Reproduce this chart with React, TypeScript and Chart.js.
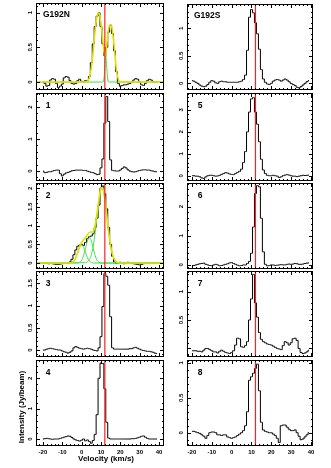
import React, { useEffect, useRef } from "react";
import { Chart, registerables } from "chart.js";

Chart.register(...registerables);

// ---------- DATA ----------
const velocity = [
  -20, -19, -18, -17, -16, -15, -14, -13, -12, -11, -10, -9, -8, -7, -6, -5, -4, -3, -2, -1,
  0, 1, 2, 3, 4, 5, 6, 7, 8, 9, 10, 11, 12, 13, 14, 15, 16, 17, 18, 19,
  20, 21, 22, 23, 24, 25, 26, 27, 28, 29, 30, 31, 32, 33, 34, 35, 36, 37, 38, 39,
];
const refVelocity = 12;
const xTickValues = [-20, -10, 0, 10, 20, 30, 40];

const g192nValues = [
  0.0, -0.02, -0.06, -0.05, 0.03, 0.05, 0.04, -0.02, -0.08, -0.06, -0.03, 0.06, 0.08, 0.07, 0.02, -0.02, -0.03, -0.02, 0.02, 0.04,
  0.01, 0.0, 0.02, 0.02, 0.08, 0.28, 0.55, 0.8, 0.95, 1.0, 0.8, 0.55, 0.38, 0.5, 0.72, 0.82, 0.7, 0.45, 0.15, -0.02,
  -0.06, -0.05, -0.04, -0.04, -0.03, -0.02, 0.0, 0.03, 0.05, 0.04, 0.0, -0.04, -0.05, -0.02, 0.02, 0.04, 0.03, 0.0, 0.0, 0.0,
];
const g192nFitVel = [-24, 2, 3, 4, 5, 6, 7, 8, 9, 10, 11, 11.6, 12.2, 12.8, 13.5, 14.2, 15, 15.8, 16.5, 17.3, 18, 19, 20, 43];
const g192nFitTotal = [0, 0, 0.01, 0.06, 0.2, 0.45, 0.75, 0.95, 1.0, 0.85, 0.58, 0.43, 0.38, 0.47, 0.68, 0.8, 0.83, 0.76, 0.6, 0.38, 0.17, 0.04, 0, 0];
const g192nCompVel = [-24, 11.0, 11.6, 12.1, 12.5, 12.9, 13.4, 14.0, 43];
const g192nComp = [0, 0, 0.06, 0.25, 0.39, 0.25, 0.06, 0, 0];

const pos1Values = [
  0.0, -0.05, -0.04, -0.02, -0.02, 0.0, 0.02, 0.03, 0.03, -0.08, -0.15, -0.1, -0.06, -0.04, -0.02, 0.01, 0.02, 0.03, 0.03, 0.03,
  0.03, 0.02, 0.02, 0.0, -0.02, -0.04, -0.05, -0.08, -0.11, -0.1, 0.1, 0.38, 1.5, 2.33, 1.55, 0.35, 0.02, 0.01, 0.0, 0.0,
  0.03, 0.08, 0.13, 0.1, 0.04, 0.0, -0.02, -0.03, -0.02, 0.0, 0.02, 0.03, 0.04, 0.04, 0.03, 0.03, 0.01, 0.0, -0.02, -0.02,
];

const pos2Values = [
  0.0, 0.0, -0.01, -0.02, -0.01, -0.02, -0.03, -0.04, -0.04, -0.03, -0.02, -0.01, 0.0, 0.0, 0.03, 0.1, 0.22, 0.35, 0.45, 0.48,
  0.5, 0.47, 0.55, 0.65, 0.7, 0.72, 0.78, 0.95, 1.2, 1.55, 2.0, 2.06, 1.85, 1.45, 0.95, 0.5, 0.18, 0.03, -0.01, 0.0,
  0.02, 0.0, -0.02, 0.0, 0.02, 0.01, -0.01, -0.02, -0.03, -0.04, -0.05, -0.04, -0.02, 0.0, 0.01, 0.0, 0.0, 0.01, 0.0, 0.0,
];
const pos2CompAVel = [-24, -6, -5, -4, -3, -2, -1, 0, 1, 2, 3, 4, 5, 6, 43];
const pos2CompA = [0, 0, 0.02, 0.05, 0.14, 0.28, 0.42, 0.48, 0.42, 0.28, 0.14, 0.05, 0.02, 0, 0];
const pos2CompBVel = [-24, -2, -1, 0, 1, 2, 3, 4, 5, 6, 7, 8, 9, 10, 43];
const pos2CompB = [0, 0, 0.02, 0.07, 0.2, 0.39, 0.59, 0.68, 0.59, 0.39, 0.2, 0.07, 0.02, 0, 0];
const pos2CompCVel = [-24, 2, 3, 4, 5, 6, 7, 8, 9, 10, 10.5, 11, 12, 13, 14, 15, 16, 17, 18, 19, 43];
const pos2CompC = [0, 0.01, 0.03, 0.09, 0.22, 0.45, 0.82, 1.27, 1.71, 1.98, 2.02, 1.98, 1.71, 1.27, 0.82, 0.45, 0.22, 0.09, 0.03, 0.01, 0];
const pos2FitVel = [-24, -6, -5, -4, -3, -2, -1, 0, 1, 2, 3, 4, 5, 6, 7, 8, 9, 10, 10.5, 11, 12, 13, 14, 15, 16, 17, 18, 19, 20, 43];
const pos2FitTotal = [0, 0, 0.02, 0.05, 0.14, 0.29, 0.44, 0.55, 0.62, 0.68, 0.76, 0.82, 0.83, 0.84, 1.02, 1.34, 1.73, 1.99, 2.02, 1.98, 1.71, 1.27, 0.82, 0.45, 0.22, 0.09, 0.03, 0.01, 0, 0];

const pos3Values = [
  0.0, 0.0, 0.02, 0.03, 0.04, 0.03, 0.02, 0.01, 0.0, 0.0, -0.02, -0.04, -0.05, -0.07, -0.05, -0.02, 0.05, 0.08, 0.06, 0.04,
  0.03, 0.02, 0.03, 0.04, 0.03, 0.02, 0.0, -0.01, -0.02, 0.05, 0.3, 0.98, 1.72, 1.66, 1.46, 0.75, 0.05, 0.02, 0.02, 0.02,
  0.02, 0.02, 0.02, 0.02, 0.02, 0.03, 0.03, 0.05, 0.06, 0.04, 0.02, 0.0, -0.01, -0.02, -0.03, -0.03, -0.04, -0.05, -0.07, -0.08,
];

const pos4Values = [
  0.0, 0.01, 0.02, 0.01, 0.0, -0.01, 0.0, 0.0, 0.0, 0.02, 0.04, 0.06, 0.08, 0.1, 0.09, 0.05, 0.0, -0.03, -0.05, -0.07,
  -0.04, 0.0, -0.06, -0.03, -0.08, -0.14, -0.05, 0.15, 0.8, 2.0, 2.5, 2.48, 1.65, 0.55, 0.03, 0.0, 0.0, 0.0, 0.0, 0.0,
  0.0, 0.0, 0.0, 0.0, 0.0, 0.0, 0.01, 0.01, 0.02, 0.04, 0.06, 0.09, 0.1, 0.06, 0.02, 0.0, 0.0, 0.0, 0.0, 0.0,
];

const g192sValues = [
  0.05, 0.04, 0.02, 0.0, -0.03, -0.05, -0.06, -0.05, -0.02, 0.02, 0.05, 0.04, 0.01, 0.0, 0.03, 0.04, 0.03, 0.03, 0.02, 0.02,
  0.02, 0.02, 0.02, 0.02, 0.03, 0.04, 0.07, 0.15, 0.6, 1.2, 1.34, 1.28, 1.1, 0.9, 0.62, 0.25, 0.08, 0.02, -0.01, -0.02,
  0.0, 0.04, 0.06, 0.07, 0.06, 0.04, 0.06, 0.08, 0.06, 0.03, 0.0, -0.02, -0.04, -0.07, -0.08, -0.06, -0.03, 0.0, 0.03, 0.05,
];

const pos5Values = [
  0.0, 0.0, -0.02, -0.02, -0.05, -0.1, -0.12, -0.05, 0.0, 0.02, 0.02, 0.0, -0.02, -0.01, 0.02, 0.06, 0.1, 0.14, 0.12, 0.08,
  0.06, 0.05, 0.1, 0.15, 0.2, 0.3, 0.6, 1.1, 2.0, 2.9, 3.5, 3.56, 2.9, 2.35, 1.55, 0.75, 0.26, 0.1, 0.02, 0.0,
  0.0, 0.02, 0.0, -0.02, -0.08, -0.05, 0.0, 0.03, 0.05, 0.03, 0.0, -0.02, -0.02, -0.04, -0.02, 0.0, 0.02, 0.01, 0.02, 0.03,
];

const pos6Values = [
  -0.03, -0.02, 0.0, 0.02, 0.04, 0.05, 0.06, 0.02, 0.0, -0.02, -0.03, 0.0, 0.02, 0.0, -0.03, -0.02, 0.0, 0.02, 0.04, 0.07,
  0.08, 0.05, 0.02, -0.01, -0.03, -0.02, 0.0, 0.0, 0.05, 0.12, 0.4, 1.3, 2.45, 2.72, 2.68, 1.6, 0.45, 0.02, -0.03, -0.02,
  0.0, 0.0, -0.02, -0.01, 0.0, 0.01, 0.0, 0.0, 0.02, 0.03, 0.02, 0.03, 0.05, 0.04, 0.02, 0.02, 0.03, 0.05, 0.06, 0.07,
];

const pos7Values = [
  -0.04, -0.04, -0.04, -0.05, -0.05, -0.06, -0.03, 0.0, 0.0, -0.02, -0.04, -0.06, -0.06, -0.08, -0.05, -0.03, -0.05, -0.07, -0.08, -0.09,
  -0.07, -0.04, 0.06, 0.18, 0.17, 0.03, 0.02, 0.05, 0.12, 0.5, 0.87, 1.3, 0.8, 0.55, 0.28, 0.16, 0.12, 0.1, 0.08, 0.07,
  0.06, 0.04, 0.02, 0.0, -0.01, -0.02, 0.05, 0.12, 0.1, 0.06, 0.1, 0.17, 0.18, 0.14, 0.0, -0.07, -0.09, -0.08, -0.06, -0.03,
];

const pos8Values = [
  0.02, 0.02, 0.01, 0.0, -0.01, -0.03, -0.05, -0.08, -0.04, 0.0, 0.01, 0.01, 0.0, -0.03, -0.03, -0.04, -0.03, -0.03, -0.06, -0.07,
  -0.08, -0.07, -0.06, -0.04, -0.02, 0.0, 0.03, 0.1, 0.3, 0.75, 0.8, 0.85, 0.92, 0.98, 0.6, 0.15, 0.04, 0.02, 0.01, 0.0,
  0.0, -0.02, -0.04, -0.08, -0.14, 0.1, 0.11, 0.11, 0.08, 0.05, 0.03, 0.03, 0.04, 0.0, -0.05, -0.1, -0.09, -0.06, -0.03, 0.0,
];

// ---------- LAYOUT / STYLE ----------
const FONT = '"Liberation Sans", Arial, Helvetica, sans-serif';
const YELLOW = "#e2e200";
const GREEN = "#44e044";
const RED = "#ff2020";

const columns = [
  { canvasLeft: 0, canvasWidth: 170, plotLeft: 36, plotRight: 164, xmin: -23.6, xmax: 42.6, labelDx: 12 },
  { canvasLeft: 170, canvasWidth: 161, plotLeft: 187, plotRight: 313, xmin: -22.5, xmax: 41, labelDx: 13 },
];

type Fit = { vel: number[]; vals: number[]; color: string; width: number };
type PanelDef = {
  key: string; col: number; top: number; bottom: number; ymin: number; ymax: number;
  major: number[]; labels: string[]; minor: number; title: string; values: number[];
  fits: Fit[]; showX: boolean; showTitles: boolean;
};

const panels: PanelDef[] = [
  { key: "g192n", col: 0, top: 3, bottom: 90, ymin: -0.115, ymax: 1.14, major: [0, 0.5, 1], labels: ["0", "0.5", "1"], minor: 0.1, title: "G192N", values: g192nValues,
    fits: [
      { vel: g192nCompVel, vals: g192nComp, color: GREEN, width: 1 },
      { vel: g192nFitVel, vals: g192nFitTotal, color: YELLOW, width: 1.6 },
    ], showX: false, showTitles: false },
  { key: "p1", col: 0, top: 93, bottom: 181, ymin: -0.31, ymax: 2.44, major: [0, 1, 2], labels: ["0", "1", "2"], minor: 0.2, title: "1", values: pos1Values, fits: [], showX: false, showTitles: false },
  { key: "p2", col: 0, top: 183, bottom: 269, ymin: -0.16, ymax: 2.14, major: [0, 0.5, 1, 1.5, 2], labels: ["0", "0.5", "1", "1.5", "2"], minor: 0.1, title: "2", values: pos2Values,
    fits: [
      { vel: pos2CompAVel, vals: pos2CompA, color: GREEN, width: 1 },
      { vel: pos2CompBVel, vals: pos2CompB, color: GREEN, width: 1 },
      { vel: pos2CompCVel, vals: pos2CompC, color: GREEN, width: 1 },
      { vel: pos2FitVel, vals: pos2FitTotal, color: YELLOW, width: 1.6 },
    ], showX: false, showTitles: false },
  { key: "p3", col: 0, top: 271, bottom: 357, ymin: -0.157, ymax: 1.78, major: [0, 0.5, 1, 1.5], labels: ["0", "0.5", "1", "1.5"], minor: 0.1, title: "3", values: pos3Values, fits: [], showX: false, showTitles: false },
  { key: "p4", col: 0, top: 360, bottom: 446, ymin: -0.23, ymax: 2.6, major: [0, 1, 2], labels: ["0", "1", "2"], minor: 0.2, title: "4", values: pos4Values, fits: [], showX: true, showTitles: true },
  { key: "g192s", col: 1, top: 4, bottom: 90, ymin: -0.12, ymax: 1.44, major: [0, 0.5, 1], labels: ["0", "0.5", "1"], minor: 0.1, title: "G192S", values: g192sValues, fits: [], showX: false, showTitles: false },
  { key: "p5", col: 1, top: 93, bottom: 181, ymin: -0.24, ymax: 3.77, major: [0, 1, 2, 3], labels: ["0", "1", "2", "3"], minor: 0.2, title: "5", values: pos5Values, fits: [], showX: false, showTitles: false },
  { key: "p6", col: 1, top: 183, bottom: 269, ymin: -0.14, ymax: 2.81, major: [0, 1, 2], labels: ["0", "1", "2"], minor: 0.2, title: "6", values: pos6Values, fits: [], showX: false, showTitles: false },
  { key: "p7", col: 1, top: 271, bottom: 357, ymin: -0.15, ymax: 1.36, major: [0, 0.5, 1], labels: ["", "0.5", "1"], minor: 0.1, title: "7", values: pos7Values, fits: [], showX: false, showTitles: false },
  { key: "p8", col: 1, top: 360, bottom: 446, ymin: -0.19, ymax: 1.04, major: [0, 0.5, 1], labels: ["0", "0.5", "1"], minor: 0.1, title: "8", values: pos8Values, fits: [], showX: true, showTitles: false },
];

function framePlugin(p: PanelDef) {
  return {
    id: "frame_" + p.key,
    afterDatasetsDraw(chart: any) {
      const ctx = chart.ctx as CanvasRenderingContext2D;
      const a = chart.chartArea;
      const xs = chart.scales.x;
      const rx = xs.getPixelForValue(refVelocity);
      ctx.save();
      ctx.strokeStyle = RED;
      ctx.lineWidth = 1.2;
      ctx.beginPath();
      ctx.moveTo(rx, Math.round(a.top) + 1);
      ctx.lineTo(rx, Math.round(a.bottom) - 1);
      ctx.stroke();
      ctx.restore();
    },
    afterDraw(chart: any) {
      const ctx = chart.ctx as CanvasRenderingContext2D;
      const a = chart.chartArea;
      const xs = chart.scales.x;
      const ys = chart.scales.y;
      const L = Math.round(a.left), R = Math.round(a.right), T = Math.round(a.top), B = Math.round(a.bottom);
      ctx.save();
      ctx.strokeStyle = "#000";
      ctx.lineWidth = 1;
      ctx.strokeRect(L + 0.5, T + 0.5, R - L - 1, B - T - 1);
      ctx.beginPath();
      for (let v = -22; v <= 42; v += 2) {
        if (v < xs.min || v > xs.max) continue;
        const x = Math.round(xs.getPixelForValue(v)) + 0.5;
        const len = v % 10 === 0 ? 4 : 2;
        ctx.moveTo(x, B); ctx.lineTo(x, B - len);
        ctx.moveTo(x, T); ctx.lineTo(x, T + len);
      }
      const k0 = Math.ceil(ys.min / p.minor - 1e-9);
      for (let k = k0; k * p.minor <= ys.max + 1e-9; k++) {
        const v = k * p.minor;
        const y = Math.round(ys.getPixelForValue(v)) + 0.5;
        const isMajor = p.major.some((m) => Math.abs(m - v) < 1e-6);
        const len = isMajor ? 4 : 2;
        ctx.moveTo(L, y); ctx.lineTo(L + len, y);
        ctx.moveTo(R, y); ctx.lineTo(R - len, y);
      }
      ctx.stroke();

      ctx.fillStyle = "#000";
      ctx.font = `bold 6px ${FONT}`;
      p.major.forEach((m, i) => {
        const lab = p.labels[i];
        if (!lab) return;
        const y = ys.getPixelForValue(m);
        ctx.save();
        ctx.translate(L - 3, y);
        ctx.rotate(-Math.PI / 2);
        ctx.textAlign = "center";
        ctx.textBaseline = "bottom";
        ctx.fillText(lab, 0, 0);
        ctx.restore();
      });

      if (p.showX) {
        ctx.textAlign = "center";
        ctx.textBaseline = "middle";
        xTickValues.forEach((v) => {
          ctx.fillText(String(v), xs.getPixelForValue(v), B + 6);
        });
      }

      ctx.font = `bold 8.5px ${FONT}`;
      ctx.textBaseline = "middle";
      if (p.title.length > 1) {
        ctx.textAlign = "left";
        ctx.fillText(p.title, L + 7, T + 12);
      } else {
        ctx.textAlign = "center";
        ctx.fillText(p.title, L + columns[p.col].labelDx, T + 13);
      }

      if (p.showTitles) {
        ctx.font = `bold 8px ${FONT}`;
        ctx.textAlign = "center";
        ctx.textBaseline = "middle";
        ctx.fillText("Velocity (km/s)", (L + R) / 2 + 6, B + 13);
        ctx.save();
        ctx.translate(22, (T + B) / 2 + 4);
        ctx.rotate(-Math.PI / 2);
        ctx.fillText("Intensity (Jy/beam)", 0, 0);
        ctx.restore();
      }
      ctx.restore();
    },
  };
}

function PanelChart({ p }: { p: PanelDef }) {
  const ref = useRef<HTMLCanvasElement | null>(null);
  const col = columns[p.col];
  const canvasTop = p.top - 3;
  const canvasHeight = p.showX ? 468 - canvasTop : p.bottom - p.top + 6;
  useEffect(() => {
    if (!ref.current) return;
    const datasets: any[] = [];
    [...p.fits].reverse().forEach((f) => {
      datasets.push({
        data: f.vel.map((v, i) => ({ x: v, y: f.vals[i] })),
        borderColor: f.color, borderWidth: f.width, pointRadius: 0, fill: false,
        cubicInterpolationMode: "monotone",
      });
    });
    datasets.push({
      data: velocity.map((v, i) => ({ x: v, y: p.values[i] })),
      borderColor: "#000", borderWidth: 1, pointRadius: 0, fill: false, stepped: "middle",
    });
    const chart = new Chart(ref.current, {
      type: "line",
      data: { datasets },
      options: {
        animation: false,
        responsive: false,
        events: [],
        layout: {
          padding: {
            left: col.plotLeft - col.canvasLeft,
            right: col.canvasLeft + col.canvasWidth - col.plotRight,
            top: 3,
            bottom: canvasHeight - 3 - (p.bottom - p.top),
          },
        },
        scales: {
          x: { type: "linear", min: col.xmin, max: col.xmax, display: false },
          y: { type: "linear", min: p.ymin, max: p.ymax, display: false },
        },
        plugins: { legend: { display: false }, tooltip: { enabled: false } },
      },
      plugins: [framePlugin(p)],
    } as any);
    return () => chart.destroy();
  }, []);
  return (
    <canvas
      ref={ref}
      width={col.canvasWidth}
      height={canvasHeight}
      style={{ position: "absolute", left: col.canvasLeft, top: canvasTop, width: col.canvasWidth, height: canvasHeight }}
    />
  );
}

export default function App() {
  return (
    <div style={{ position: "absolute", left: 0, top: 0, width: 331, height: 468, background: "#fff", overflow: "hidden" }}>
      {panels.map((p) => (
        <PanelChart key={p.key} p={p} />
      ))}
    </div>
  );
}
